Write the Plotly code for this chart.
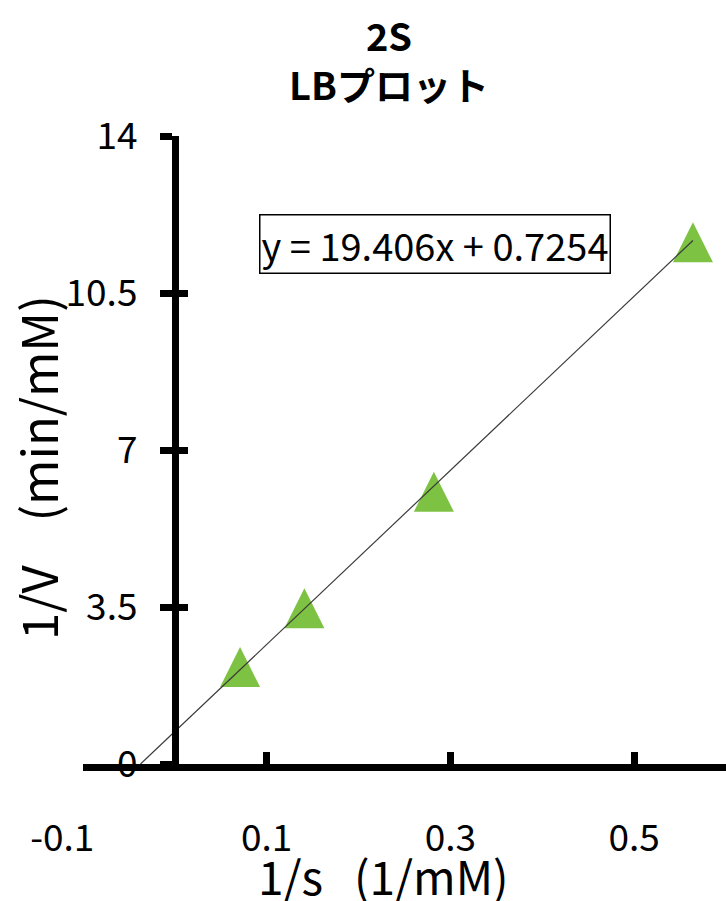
import plotly.graph_objects as go

# ---- data ----
inv_s = [0.071, 0.141, 0.282, 0.564]          # 1/s (1/mM)
inv_v = [2.16, 3.47, 6.07, 11.63]             # 1/V (min/mM)
slope = 19.406
intercept = 0.7254
x_ticks = [-0.1, 0.1, 0.3, 0.5]
x_tick_text = ["-0.1\u00a0\u00a0\u00a0\u00a0\u00a0", "0.1", "0.3", "0.5"]
y_ticks = [0, 3.5, 7, 10.5, 14]
y_tick_text = ["0", "3.5", "7", "10.5", "14"]
title_lines = ["2S", "LBプロット"]
x_title = "1/s\u00a0\u00a0\u00a0(1/mM)"
y_title = "1/V\u00a0\u00a0\u00a0\u00a0(min/mM)"
equation = "y = 19.406x + 0.7254"

# trendline from the fitted equation (backward forecast to y = 0)
trend_x = [-intercept / slope, inv_s[-1]]
trend_y = [slope * v + intercept for v in trend_x]

FONT = "Noto Sans CJK JP"
GREEN = "#7DC242"
MARKER = 40

fig = go.Figure()
# upward triangle centred on the data point (arrow-down rotated 180deg, pushed back by half its height)
fig.add_trace(go.Scatter(
    x=inv_s, y=inv_v, mode="markers",
    marker=dict(symbol="arrow-down", angle=180, size=MARKER, standoff=MARKER / 2,
                color=GREEN, line=dict(width=0)),
    showlegend=False, hoverinfo="x+y", cliponaxis=False,
))
fig.add_trace(go.Scatter(
    x=trend_x, y=trend_y, mode="lines", yaxis="y2",
    line=dict(color="#3a3a3a", width=1.2),
    showlegend=False, hoverinfo="skip",
))

common_y = dict(
    range=[0, 14], tickvals=y_ticks, ticktext=y_tick_text,
    showgrid=False, zeroline=False, tickcolor="black",
    ticklen=12, tickwidth=7, automargin=False,
)

fig.update_layout(
    width=726, height=901,
    margin=dict(l=83, r=0, t=136, b=137, autoexpand=False),
    paper_bgcolor="white", plot_bgcolor="white",
    font=dict(family=FONT, color="black"),
    title=dict(
        text="<b>" + title_lines[0] + "</b><br><b>" + title_lines[1] + "</b>",
        font=dict(family=FONT, size=38, color="black"),
        x=389 / 726, xref="container", xanchor="center",
        y=1 - 51 / 901, yref="container", yanchor="middle",
    ),
    xaxis=dict(
        range=[-0.1, 0.6], tickvals=x_ticks, ticktext=x_tick_text,
        showgrid=False, zeroline=False, automargin=False,
        showline=True, linewidth=7, linecolor="black",
        ticks="inside", ticklen=12, tickwidth=7, tickcolor="black",
        tickfont=dict(family=FONT, size=37),
        ticklabelstandoff=36,
    ),
    yaxis=dict(
        **common_y,
        anchor="free", position=1 / 7, side="left",
        showline=True, linewidth=7, linecolor="black",
        ticks="outside",
        tickfont=dict(family=FONT, size=37),
        ticklabelstandoff=15,
    ),
    yaxis2=dict(
        **common_y,
        overlaying="y", anchor="free", position=1 / 7, side="left",
        showline=False, ticks="inside", showticklabels=False,
    ),
    annotations=[
        dict(
            text=equation, x=0.283, y=11.60, xref="x", yref="y",
            showarrow=False, font=dict(family=FONT, size=38, color="black"),
            bordercolor="black", borderwidth=1.5, borderpad=1, bgcolor="white",
        ),
        dict(
            text=x_title, x=(383 - 83) / 643, y=-(875 - 764) / 628,
            xref="paper", yref="paper", xanchor="center", yanchor="middle",
            showarrow=False, font=dict(family=FONT, size=46, color="black"),
        ),
        dict(
            text=y_title, x=(36 - 83) / 643, y=(764 - 468) / 628, textangle=-90,
            xref="paper", yref="paper", xanchor="center", yanchor="middle",
            showarrow=False, font=dict(family=FONT, size=49, color="black"),
        ),
    ],
)

fig.write_html("out.html", config={"displayModeBar": False},
               post_script="document.body.style.margin='0';")
